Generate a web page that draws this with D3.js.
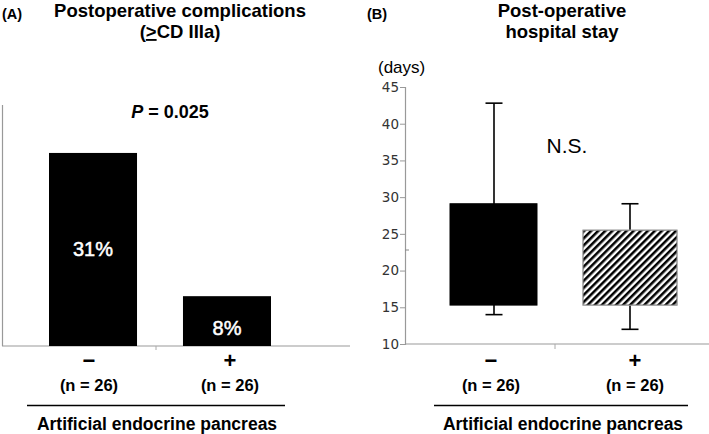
<!DOCTYPE html>
<html>
<head>
<meta charset="utf-8">
<script src="https://d3js.org/d3.v7.min.js"></script>
<style>
  body { margin: 0; background: #fff; }
  text { font-family: "Liberation Sans", Arial, sans-serif; }
  .ttl { font-weight: bold; font-size: 18.5px; }
  .grp { font-weight: bold; }
  .tick text { font-family: "DejaVu Sans", Tahoma, sans-serif; font-size: 13.5px; fill: #333; }
</style>
</head>
<body>
<script>
// data
var groups = ["\u2212", "+"];
var groupN = ["(n = 26)", "(n = 26)"];
var complications = [31, 8];           // % with >= CD IIIa
var stayQ1 = [15.3, 15.3];
var stayQ3 = [29.1, 25.5];
var stayMin = [14, 12];
var stayMax = [42.8, 29.1];
var stayTicks = [10, 15, 20, 25, 30, 35, 40, 45];

var svg = d3.select("body").append("svg")
  .attr("width", 709).attr("height", 434);

var defs = svg.append("defs");
defs.append("pattern")
  .attr("id", "hatch")
  .attr("patternUnits", "userSpaceOnUse")
  .attr("width", 5).attr("height", 10)
  .attr("patternTransform", "rotate(45)")
  .append("line")
  .attr("x1", 1.25).attr("y1", 0).attr("x2", 1.25).attr("y2", 10)
  .attr("stroke", "#000").attr("stroke-width", 2.6);

// ---------- panel A ----------
var a = svg.append("g");
a.append("text").attr("x", 2).attr("y", 19).style("font-weight", "bold").style("font-size", "14.5px").text("(A)");
a.append("text").attr("class", "ttl").attr("x", 180).attr("y", 17).attr("text-anchor", "middle").text("Postoperative complications");
var t2 = a.append("text").attr("class", "ttl").attr("x", 180).attr("y", 38).attr("text-anchor", "middle");
t2.append("tspan").text("(");
t2.append("tspan").style("text-decoration", "underline").text(">");
t2.append("tspan").text("CD IIIa)");

var xa = d3.scaleBand().domain(groups).range([49, 271]).paddingInner(0.343).paddingOuter(0);
var ya = d3.scaleLinear().domain([0, 38.7]).range([346, 105]);

a.append("line").attr("x1", 2.5).attr("x2", 2.5).attr("y1", ya(38.7)).attr("y2", ya(0))
  .attr("stroke", "#999").attr("stroke-width", 1.2);
a.append("line").attr("x1", 2).attr("x2", 350).attr("y1", ya(0)).attr("y2", ya(0))
  .attr("stroke", "#999").attr("stroke-width", 1.2);
a.append("line").attr("x1", 156).attr("x2", 156).attr("y1", ya(0)).attr("y2", ya(0) + 4)
  .attr("stroke", "#aaa");

a.selectAll("rect.bar").data(complications).enter().append("rect")
  .attr("class", "bar")
  .attr("x", function(d, i) { return xa(groups[i]); })
  .attr("width", xa.bandwidth())
  .attr("y", function(d) { return ya(d); })
  .attr("height", function(d) { return ya(0) - ya(d); })
  .attr("fill", "#000");

a.selectAll("text.val").data(complications).enter().append("text")
  .attr("class", "val")
  .attr("x", function(d, i) { return xa(groups[i]) + xa.bandwidth() / 2; })
  .attr("y", function(d, i) { return i == 0 ? (ya(d) + ya(0)) / 2 + 7 : ya(0) - 11; })
  .attr("text-anchor", "middle")
  .attr("fill", "#fff")
  .attr("stroke", "#fff")
  .attr("stroke-width", 0.5)
  .style("font-size", "20px")
  .text(function(d) { return d + "%"; });

var pt = a.append("text").attr("x", 170).attr("y", 118).attr("text-anchor", "middle")
  .style("font-weight", "bold").style("font-size", "18px");
pt.append("tspan").style("font-style", "italic").text("P");
pt.append("tspan").text(" = 0.025");

function groupLabels(g, xs, lineX1, lineX2, midX) {
  g.selectAll("text.sign").data(groups).enter().append("text")
    .attr("class", "grp")
    .attr("x", function(d, i) { return xs[i]; })
    .attr("y", 368)
    .attr("text-anchor", "middle")
    .style("font-size", "22px")
    .text(function(d) { return d; });
  g.selectAll("text.n").data(groupN).enter().append("text")
    .attr("class", "grp")
    .attr("x", function(d, i) { return xs[i]; })
    .attr("y", 391)
    .attr("text-anchor", "middle")
    .style("font-size", "16.5px")
    .text(function(d) { return d; });
  g.append("line").attr("x1", lineX1).attr("x2", lineX2).attr("y1", 405.5).attr("y2", 405.5)
    .attr("stroke", "#000").attr("stroke-width", 1.3);
  g.append("text").attr("class", "grp").attr("x", midX).attr("y", 430)
    .attr("text-anchor", "middle").style("font-size", "17.5px")
    .text("Artificial endocrine pancreas");
}
groupLabels(a, [89, 230], 27, 285, 157);

// ---------- panel B ----------
var b = svg.append("g");
b.append("text").attr("x", 367).attr("y", 19).style("font-weight", "bold").style("font-size", "14.5px").text("(B)");
b.append("text").attr("class", "ttl").attr("x", 562).attr("y", 17).attr("text-anchor", "middle").text("Post-operative");
b.append("text").attr("class", "ttl").attr("x", 562).attr("y", 38).attr("text-anchor", "middle").text("hospital stay");
b.append("text").attr("x", 378).attr("y", 73).style("font-size", "17px").text("(days)");

var yb = d3.scaleLinear().domain([10, 45]).range([344, 87]);

var axB = b.append("g").attr("transform", "translate(405,0)")
  .call(d3.axisLeft(yb).tickValues(stayTicks).tickSize(5).tickPadding(1));
axB.select(".domain").attr("stroke", "#999").attr("stroke-width", 1.2);
axB.selectAll(".tick line").attr("stroke", "#999");

b.append("line").attr("x1", 405).attr("x2", 709).attr("y1", yb(10)).attr("y2", yb(10))
  .attr("stroke", "#999").attr("stroke-width", 1.2);
b.append("line").attr("x1", 555).attr("x2", 555).attr("y1", yb(10)).attr("y2", yb(10) + 5)
  .attr("stroke", "#aaa");
b.append("line").attr("x1", 405).attr("x2", 409).attr("y1", yb(22.8)).attr("y2", yb(22.8))
  .attr("stroke", "#888");

var cx = [494, 630];

// whiskers
b.selectAll("line.wh").data(stayMax).enter().append("line")
  .attr("x1", function(d, i) { return cx[i]; }).attr("x2", function(d, i) { return cx[i]; })
  .attr("y1", function(d) { return yb(d); })
  .attr("y2", function(d, i) { return yb(stayMin[i]); })
  .attr("stroke", "#000").attr("stroke-width", 1.6);
[stayMax, stayMin].forEach(function(arr) {
  b.selectAll(null).data(arr).enter().append("line")
    .attr("x1", function(d, i) { return cx[i] - 8.5; }).attr("x2", function(d, i) { return cx[i] + 8.5; })
    .attr("y1", function(d) { return yb(d); }).attr("y2", function(d) { return yb(d); })
    .attr("stroke", "#000").attr("stroke-width", 1.6);
});

// boxes
b.selectAll("rect.box").data(stayQ3).enter().append("rect")
  .attr("x", function(d, i) { return cx[i] - (i == 0 ? 44 : 47); })
  .attr("width", function(d, i) { return i == 0 ? 87 : 94; })
  .attr("y", function(d) { return yb(d); })
  .attr("height", function(d, i) { return yb(stayQ1[i]) - yb(d); })
  .attr("fill", function(d, i) { return i == 0 ? "#000" : "#fff"; })
  .attr("stroke", function(d, i) { return i == 0 ? "#000" : "#999"; })
  .attr("stroke-width", 1);
b.append("rect")
  .attr("x", cx[1] - 47).attr("width", 94)
  .attr("y", yb(stayQ3[1])).attr("height", yb(stayQ1[1]) - yb(stayQ3[1]))
  .attr("fill", "url(#hatch)").attr("stroke", "#999").attr("stroke-width", 1);

b.append("text").attr("x", 567).attr("y", 153).attr("text-anchor", "middle")
  .style("font-size", "21px").text("N.S.");

groupLabels(b, [491, 635], 434, 688, 563);
</script>
</body>
</html>
